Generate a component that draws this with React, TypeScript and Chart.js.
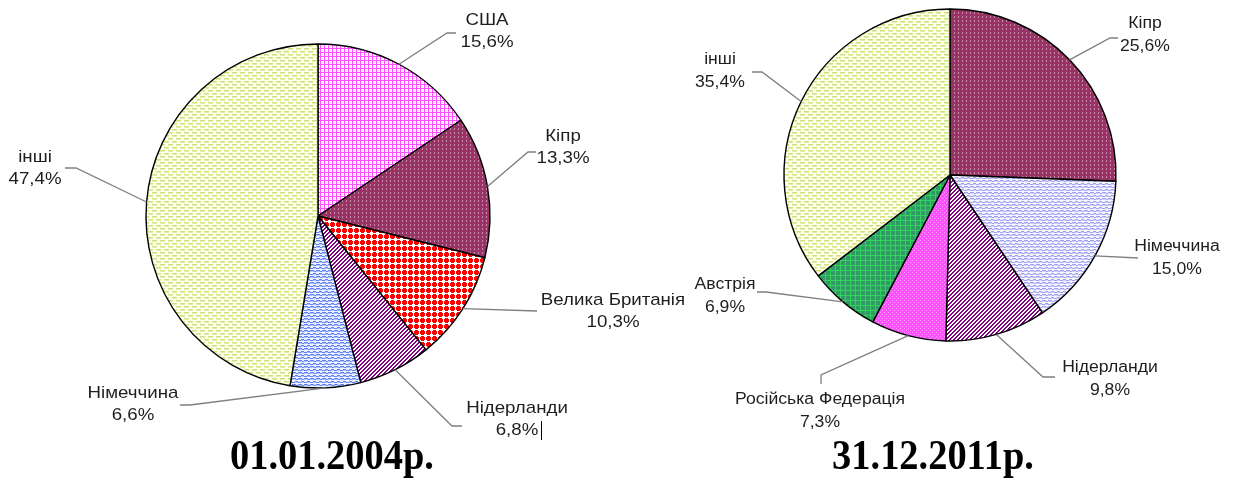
import React, { useEffect, useRef } from 'react';
import { Chart, registerables } from 'chart.js';

Chart.register(...registerables);

// ---------- DATA ----------
const categories2004 = ['США', 'Кіпр', 'Велика Британія', 'Нідерланди', 'Німеччина', 'інші'];
const values2004 = [15.6, 13.3, 10.3, 6.8, 6.6, 47.4];

const categories2011 = ['Кіпр', 'Німеччина', 'Нідерланди', 'Російська Федерація', 'Австрія', 'інші'];
const values2011 = [25.6, 15.0, 9.8, 7.3, 6.9, 35.4];

const titles = ['01.01.2004р.', '31.12.2011р.'];

// ---------- LAYOUT ----------
const W = 1242;
const H = 481;

type Callout = { tx: number; ty: number; path: number[][] };
type PieLayout = {
  cx: number; cy: number; r: number; fontSize: number; scaleX: number;
  titleX: number; titleY: number; callouts: Callout[];
};

const layout2004: PieLayout = {
  cx: 318, cy: 216, r: 172, fontSize: 17, scaleX: 1.1,
  titleX: 332, titleY: 458,
  callouts: [
    { tx: 487, ty: 20, path: [[447, 33], [456, 33]] },
    { tx: 563, ty: 136, path: [[528, 152], [536, 152]] },
    { tx: 613, ty: 300, path: [[537, 311]] },
    { tx: 517, ty: 408, path: [[452, 426], [462, 426]] },
    { tx: 133, ty: 393, path: [[190, 405], [180, 405]] },
    { tx: 35, ty: 157, path: [[76, 168], [65, 168]] },
  ],
};

const layout2011: PieLayout = {
  cx: 950, cy: 175, r: 166, fontSize: 16, scaleX: 1.1,
  titleX: 933, titleY: 458,
  callouts: [
    { tx: 1145, ty: 24, path: [[1110, 38], [1118, 38]] },
    { tx: 1177, ty: 247, path: [[1138, 258]] },
    { tx: 1110, ty: 368, path: [[1043, 377], [1055, 377]] },
    { tx: 820, ty: 400, path: [[821, 375], [821, 384]] },
    { tx: 725, ty: 285, path: [[766, 292], [757, 292]] },
    { tx: 720, ty: 60, path: [[762, 72], [752, 72]] },
  ],
};

// ---------- PATTERNS ----------
function makePattern(w: number, h: number, draw: (ctx: CanvasRenderingContext2D) => void): CanvasPattern {
  const c = document.createElement('canvas');
  c.width = w;
  c.height = h;
  const ctx = c.getContext('2d')!;
  draw(ctx);
  return ctx.createPattern(c, 'repeat')!;
}

function rects(ctx: CanvasRenderingContext2D, color: string, list: number[][]) {
  ctx.fillStyle = color;
  list.forEach(([x, y, w = 1, h = 1]) => ctx.fillRect(x, y, w, h));
}

function buildPatterns() {
  const usa = makePattern(4, 4, (ctx) => {
    rects(ctx, '#ffffff', [[0, 0, 4, 4]]);
    rects(ctx, '#ff4dff', [[0, 0, 4, 1], [0, 0, 1, 4]]);
    rects(ctx, '#ffc8ff', [[2, 2, 1, 1]]);
  });
  const cyprus = makePattern(4, 4, (ctx) => {
    rects(ctx, '#993366', [[0, 0, 4, 4]]);
    rects(ctx, '#c58aa8', [[2, 0, 1, 2]]);
  });
  const uk = makePattern(6, 6, (ctx) => {
    rects(ctx, '#ffffff', [[0, 0, 6, 6]]);
    rects(ctx, '#ff0000', [[1, 0, 3, 5], [0, 1, 5, 3]]);
  });
  const netherlands = makePattern(4, 4, (ctx) => {
    rects(ctx, '#ffffff', [[0, 0, 4, 4]]);
    ctx.fillStyle = '#800080';
    for (let y = 0; y < 4; y++) for (let x = 0; x < 4; x++) if ((x + y) % 4 < 2) ctx.fillRect(x, y, 1, 1);
  });
  const germanyL = makePattern(6, 6, (ctx) => {
    rects(ctx, '#eef2fe', [[0, 0, 6, 6]]);
    rects(ctx, '#b4c4fa', [[0, 1, 6, 1], [0, 4, 6, 1]]);
    rects(ctx, '#5f80f0', [[0, 0], [1, 0], [2, 1], [3, 1], [4, 0], [5, 0], [1, 3], [2, 3], [3, 3], [0, 4], [4, 4], [5, 4]]);
  });
  const others = makePattern(8, 6, (ctx) => {
    rects(ctx, '#fffff0', [[0, 0, 8, 6]]);
    rects(ctx, '#cde07a', [[0, 0, 5, 1], [4, 3, 4, 1], [0, 3, 1, 1]]);
    rects(ctx, '#e4eeb0', [[0, 1, 5, 1], [4, 4, 4, 1], [0, 4, 1, 1]]);
  });
  const germanyR = makePattern(6, 6, (ctx) => {
    rects(ctx, '#f6f6fe', [[0, 0, 6, 6]]);
    rects(ctx, '#d4d4fa', [[0, 1, 6, 1], [0, 4, 6, 1]]);
    rects(ctx, '#a0a0f0', [[0, 0], [1, 0], [2, 1], [3, 1], [4, 0], [5, 0], [1, 3], [2, 3], [3, 3], [0, 4], [4, 4], [5, 4]]);
  });
  const russia = makePattern(4, 4, (ctx) => {
    rects(ctx, '#ff50ff', [[0, 0, 4, 4]]);
    rects(ctx, '#ffa0ff', [[0, 0], [2, 2]]);
  });
  const austria = makePattern(5, 5, (ctx) => {
    rects(ctx, '#339966', [[0, 0, 5, 5]]);
    rects(ctx, '#2fd45a', [[0, 0, 5, 1], [0, 0, 1, 5]]);
  });
  return {
    fills2004: [usa, cyprus, uk, netherlands, germanyL, others],
    fills2011: [cyprus, germanyR, netherlands, russia, austria, others],
  };
}

const fmtPct = (v: number) => v.toFixed(1).replace('.', ',') + '%';

function calloutPlugin(layout: PieLayout, names: string[], values: number[], title: string, extra?: (ctx: CanvasRenderingContext2D) => void) {
  return {
    id: 'callouts',
    afterDraw(chart: any) {
      const ctx: CanvasRenderingContext2D = chart.ctx;
      const meta = chart.getDatasetMeta(0);
      ctx.save();
      meta.data.forEach((arc: any, i: number) => {
        const c = layout.callouts[i];
        if (!c) return;
        const mid = (arc.startAngle + arc.endAngle) / 2;
        const sx = arc.x + Math.cos(mid) * arc.outerRadius;
        const sy = arc.y + Math.sin(mid) * arc.outerRadius;
        ctx.beginPath();
        ctx.moveTo(sx, sy);
        c.path.forEach(([px, py]) => ctx.lineTo(px, py));
        ctx.strokeStyle = '#7f7f7f';
        ctx.lineWidth = 1.3;
        ctx.stroke();

        ctx.fillStyle = '#1e1e1e';
        ctx.font = `${layout.fontSize}px "Liberation Sans", Arial, sans-serif`;
        ctx.textAlign = 'center';
        ctx.textBaseline = 'middle';
        const lines = [names[i], fmtPct(values[i])];
        lines.forEach((t, k) => {
          ctx.save();
          ctx.translate(c.tx, c.ty + k * 22.5);
          ctx.scale(layout.scaleX, 1);
          ctx.fillText(t, 0, 0);
          ctx.restore();
        });
      });
      // title
      ctx.save();
      ctx.fillStyle = '#000';
      ctx.font = 'bold 42px "Liberation Serif", "Times New Roman", serif';
      ctx.textAlign = 'center';
      ctx.textBaseline = 'middle';
      ctx.translate(layout.titleX, layout.titleY);
      ctx.scale(0.915, 1);
      ctx.fillText(title, 0, 0);
      ctx.restore();
      if (extra) extra(ctx);
      ctx.restore();
    },
  };
}

function makeChart(canvas: HTMLCanvasElement, layout: PieLayout, names: string[], values: number[], fills: CanvasPattern[], title: string, extra?: (ctx: CanvasRenderingContext2D) => void) {
  const half = layout.r + 8;
  return new Chart(canvas, {
    type: 'pie',
    data: {
      labels: names,
      datasets: [
        {
          data: values,
          backgroundColor: fills,
          borderColor: '#000000',
          borderWidth: 1.4,
          radius: layout.r,
        } as any,
      ],
    },
    options: {
      responsive: false,
      animation: false,
      devicePixelRatio: 1,
      events: [],
      layout: {
        padding: {
          left: layout.cx - half,
          right: W - (layout.cx + half),
          top: layout.cy - half,
          bottom: H - (layout.cy + half),
        },
      },
      plugins: {
        legend: { display: false },
        tooltip: { enabled: false },
        title: { display: false },
      },
    },
    plugins: [calloutPlugin(layout, names, values, title, extra)],
  });
}

export default function App() {
  const leftRef = useRef<HTMLCanvasElement>(null);
  const rightRef = useRef<HTMLCanvasElement>(null);

  useEffect(() => {
    const { fills2004, fills2011 } = buildPatterns();
    const cursor = (ctx: CanvasRenderingContext2D) => {
      ctx.fillStyle = '#000';
      ctx.fillRect(541, 421, 1, 19);
    };
    const c1 = makeChart(leftRef.current!, layout2004, categories2004, values2004, fills2004, titles[0], cursor);
    const c2 = makeChart(rightRef.current!, layout2011, categories2011, values2011, fills2011, titles[1]);
    return () => {
      c1.destroy();
      c2.destroy();
    };
  }, []);

  return (
    <div style={{ position: 'fixed', left: 0, top: 0, width: W, height: H, background: '#fff', overflow: 'hidden' }}>
      <canvas ref={leftRef} width={W} height={H} style={{ position: 'absolute', left: 0, top: 0, width: W, height: H }} />
      <canvas ref={rightRef} width={W} height={H} style={{ position: 'absolute', left: 0, top: 0, width: W, height: H }} />
    </div>
  );
}
